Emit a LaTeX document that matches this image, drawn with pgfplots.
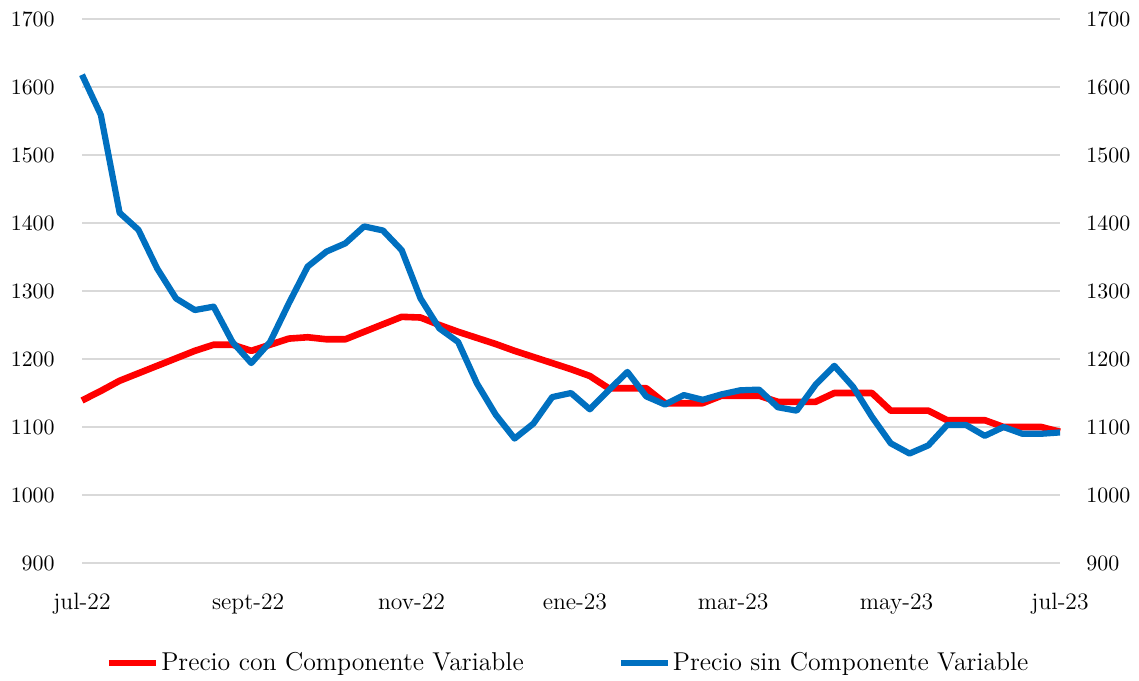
\documentclass[border=0pt]{standalone}
\usepackage{pgfplots}
\pgfplotsset{compat=1.18}
\usepackage{pgfplotstable}
\definecolor{redline}{RGB}{255,0,0}
\definecolor{blueline}{RGB}{0,112,192}
\definecolor{gridgray}{RGB}{217,217,217}
\pgfplotstableread{
i con sin
0 1139 1618
1 1153 1559
2 1168 1415
3 1179 1390
4 1190 1333
5 1201 1289
6 1212 1272
7 1221 1277
8 1221 1225
9 1212 1194
10 1221 1225
11 1230 1282
12 1232 1336
13 1229 1358
14 1229 1370
15 1240 1395
16 1251 1389
17 1262 1360
18 1261 1289
19 1250 1245
20 1240 1225
21 1231 1164
22 1222 1118
23 1212 1083
24 1203 1105
25 1194 1144
26 1185 1150
27 1175 1126
28 1157 1154
29 1157 1181
30 1157 1145
31 1135 1133
32 1135 1147
33 1135 1140
34 1146 1148
35 1146 1154
36 1146 1155
37 1137 1129
38 1137 1124
39 1137 1162
40 1150 1190
41 1150 1159
42 1150 1115
43 1124 1076
44 1124 1061
45 1124 1073
46 1110 1103
47 1110 1103
48 1110 1087
49 1100 1100
50 1100 1090
51 1100 1090
52 1093 1092
}\datatable
\begin{document}
\begin{tikzpicture}
\useasboundingbox (-41pt,-58.5pt) rectangle (528.5pt,281.5pt);
\begin{axis}[
  at={(0pt,0pt)}, anchor=south west,
  scale only axis, width=489pt, height=272pt,
  xmin=0, xmax=52, ymin=900, ymax=1700,
  ytick={900,1000,...,1700},
  xtick={0,8.833,17.52,26.21,34.62,43.31,52},
  xticklabels={jul-22,sept-22,nov-22,ene-23,mar-23,may-23,jul-23},
  /pgf/number format/1000 sep={},
  axis line style={draw=none},
  major tick length=0pt,
  ymajorgrids, grid style={color=gridgray, line width=1pt},
  yticklabel style={font=\fontsize{11}{13}\selectfont, anchor=east, inner sep=0pt, xshift=-13.5pt},
  xticklabel style={font=\fontsize{11.8}{13}\selectfont, anchor=base, inner sep=0pt, yshift=-23pt},
  legend columns=2,
  legend style={draw=none, at={(0.497,-0.1838)}, anchor=center,
    font=\fontsize{12.9}{15}\selectfont,
    nodes={inner sep=1pt},
    /tikz/every even column/.append style={column sep=46pt}},
  legend image code/.code={\draw[#1] (0pt,0pt) -- (23.5pt,0pt);},
  clip=false,
]
\addplot[redline, line width=3.3pt, line join=round] table[x=i, y=con] {\datatable};
\addlegendentry{Precio con Componente Variable}
\addplot[blueline, line width=3.1pt, line join=round] table[x=i, y=sin] {\datatable};
\addlegendentry{Precio sin Componente Variable}
\end{axis}
\begin{axis}[
  at={(0pt,0pt)}, anchor=south west,
  scale only axis, width=489pt, height=272pt,
  xmin=0, xmax=52, ymin=900, ymax=1700,
  ytick={900,1000,...,1700},
  /pgf/number format/1000 sep={},
  axis y line*=right, axis x line=none,
  axis line style={draw=none},
  major tick length=0pt,
  yticklabel style={font=\fontsize{11}{13}\selectfont, anchor=west, inner sep=0pt, xshift=13pt},
]
\end{axis}
\end{tikzpicture}
\end{document}
